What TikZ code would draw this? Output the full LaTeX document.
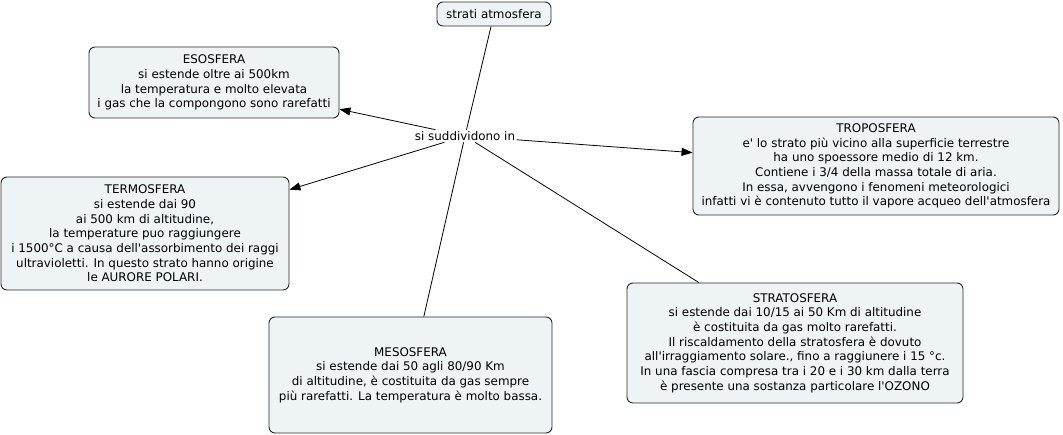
\documentclass[tikz,border=0pt]{standalone}
\usepackage{fontspec}
\setmainfont{DejaVu Sans}[Ligatures=TeXOff]
\usetikzlibrary{arrows.meta}
\definecolor{boxfill}{RGB}{238,243,245}
\definecolor{boxline}{RGB}{40,40,40}
\tikzset{
  concept/.style={draw=boxline, line width=0.9pt, fill=boxfill, rounded corners=6pt,
    align=center, inner sep=0pt, font=\fontsize{11.9}{14.7}\selectfont},
  link/.style={inner sep=1.5pt, font=\fontsize{11.9}{14.7}\selectfont},
  conn/.style={draw=black, line width=0.8pt},
  arr/.style={conn, -{Triangle[length=11pt,width=8pt]}}
}
\begin{document}
\begin{tikzpicture}[x=1pt,y=-1pt]
\useasboundingbox (0,0) rectangle (1063,435);
\node[concept, minimum width=114pt, minimum height=24pt] (strati) at (494,14) {strati atmosfera};
\node[concept, minimum width=250pt, minimum height=71pt] (eso) at (214,82.5)
  {ESOSFERA\\si estende oltre ai 500km\\la temperatura e molto elevata\\i gas che la compongono sono rarefatti};
\node[link] (lp) at (465,136) {si suddividono in};
\node[concept, minimum width=366pt, minimum height=98pt] (tropo) at (876,166)
  {TROPOSFERA\\e' lo strato più vicino alla superficie terrestre\\ha uno spoessore medio di 12 km.\\Contiene i 3/4 della massa totale di aria.\\In essa, avvengono i fenomeni meteorologici\\infatti vi è contenuto tutto il vapore acqueo dell'atmosfera};
\node[concept, minimum width=288pt, minimum height=113pt] (termo) at (145,233.5)
  {TERMOSFERA\\si estende dai 90\\ai 500 km di altitudine,\\la temperature puo raggiungere\\i 1500°C a causa dell'assorbimento dei raggi\\ultravioletti. In questo strato hanno origine\\le AURORE POLARI.};
\node[concept, minimum width=283pt, minimum height=116pt] (meso) at (410.5,375)
  {MESOSFERA\\si estende dai 50 agli 80/90 Km\\di altitudine, è costituita da gas sempre\\più rarefatti. La temperatura è molto bassa.};
\node[concept, minimum width=336pt, minimum height=120pt] (strato) at (795,343)
  {STRATOSFERA\\si estende dai 10/15 ai 50 Km di altitudine\\è costituita da gas molto rarefatti.\\Il riscaldamento della stratosfera è dovuto\\all'irraggiamento solare., fino a raggiunere i 15 °c.\\In una fascia compresa tra i 20 e i 30 km dalla terra\\è presente una sostanza particolare l'OZONO};
\draw[conn] (strati) -- (lp);
\draw[arr] (lp) -- (eso);
\draw[arr] (lp) -- (tropo);
\draw[arr] (lp) -- (termo);
\draw[conn] (lp) -- (meso);
\draw[conn] (lp) -- (strato);
\end{tikzpicture}
\end{document}
